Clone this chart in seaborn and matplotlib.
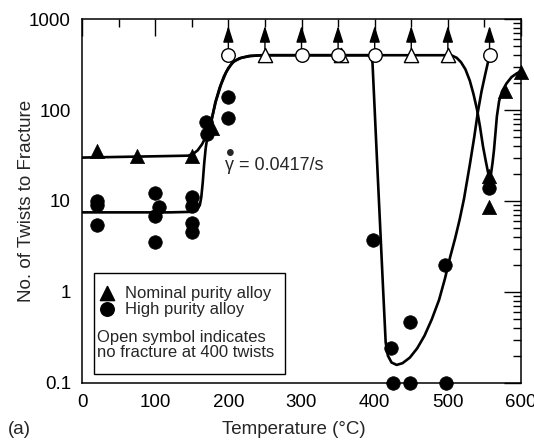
import matplotlib
matplotlib.use("Agg")
import matplotlib.pyplot as plt
import seaborn as sns
from matplotlib.patches import Rectangle
from matplotlib.ticker import FixedLocator, FuncFormatter, LogLocator, MultipleLocator, NullFormatter

# Fractured specimens (filled symbols)
nominal_temp = [20, 75, 150, 177, 556, 556, 578, 600]
nominal_twists = [35, 31, 31, 64, 19, 8.6, 160, 262]

high_temp = [20, 20, 20, 100, 105, 100, 100, 150, 150, 150, 150, 169, 171, 200, 200,
             398, 422, 448, 496, 425, 448, 498, 556]
high_twists = [10, 9.0, 5.5, 12.2, 8.6, 6.8, 3.5, 11, 8.8, 5.8, 4.6, 74, 55, 139, 82,
               3.7, 0.24, 0.47, 2.0, 0.1, 0.1, 0.1, 14]

# Specimens that did not fracture at 400 twists (open symbols)
runout_high_temp = [200, 300, 350, 400, 557]
runout_nominal_temp = [250, 354, 450, 500]
runout_twists = 400
arrow_temp = [200, 250, 300, 350, 400, 450, 500, 557]

# Trend curves
nominal_curve_temp = [0, 50, 100, 145, 152, 158, 164, 170, 176, 182, 188, 194, 200, 208,
                      218, 230, 245, 260, 350, 450, 500, 506, 512, 518, 524, 530, 535,
                      540, 544, 548, 552, 555, 557, 559, 561, 563, 565, 567, 570, 574,
                      580, 587, 594, 600]
nominal_curve_twists = [30, 30.5, 31, 31.5, 33, 36, 42, 52, 70, 120, 175, 235, 290, 345,
                        375, 392, 399, 400, 400, 400, 400, 395, 375, 335, 280, 210, 150,
                        100, 65, 40, 27, 20.5, 19, 20, 26, 36, 55, 85, 125, 160,
                        195, 230, 252, 268]

high_curve_temp = [0, 60, 120, 150, 157, 161, 163, 165, 167, 169, 172, 177, 183, 190,
                   197, 205, 215, 228, 245, 300, 350, 390, 395, 397, 400, 403, 407, 411,
                   415, 418, 423, 430, 438, 448, 458, 468, 478, 488, 496, 503, 510, 516,
                   522, 530, 536, 541, 546, 551, 557]
high_curve_twists = [7.5, 7.5, 7.5, 7.6, 8.0, 9.0, 11, 16, 26, 38, 55, 78, 125, 190,
                     260, 330, 370, 392, 400, 400, 400, 400, 385, 330, 100, 30, 6.3, 1.3,
                     0.28, 0.2, 0.168, 0.158, 0.165, 0.19, 0.24, 0.33, 0.5, 0.82, 1.4, 2.4,
                     3.9, 6.2, 10.5, 25, 50, 95, 160, 245, 400]

x_ticks = [0, 100, 200, 300, 400, 500, 600]
y_ticks = [0.1, 1, 10, 100, 1000]

sns.set_style("white")
plt.rcParams["font.family"] = ["Liberation Sans", "DejaVu Sans"]

fig = plt.figure(figsize=(5.34, 4.42), dpi=100)
ax = fig.add_axes([0.1536, 0.1335, 0.8221, 0.8235])
ax.set_yscale("log")

# trend curves
sns.lineplot(x=nominal_curve_temp, y=nominal_curve_twists, ax=ax, sort=False,
             estimator=None, color="black", linewidth=1.9, zorder=2)
sns.lineplot(x=high_curve_temp, y=high_curve_twists, ax=ax, sort=False,
             estimator=None, color="black", linewidth=1.9, zorder=2)

# fractured specimens
sns.scatterplot(x=nominal_temp, y=nominal_twists, ax=ax, marker="^", s=105,
                color="black", edgecolor="black", linewidth=0.5, clip_on=False, zorder=4)
sns.scatterplot(x=high_temp, y=high_twists, ax=ax, marker="o", s=95,
                color="black", edgecolor="black", linewidth=0.5, clip_on=False, zorder=4)

# run-out arrows and open symbols
for t in arrow_temp:
    ax.annotate("", xy=(t, 840), xytext=(t, 470),
                arrowprops=dict(arrowstyle="-|>,head_length=1.0,head_width=0.32",
                                color="black", lw=1.0, shrinkA=0, shrinkB=0),
                zorder=3)
sns.scatterplot(x=runout_nominal_temp, y=[runout_twists] * len(runout_nominal_temp), ax=ax,
                marker="^", s=105, color="white", edgecolor="black", linewidth=1.0,
                clip_on=False, zorder=5)
sns.scatterplot(x=runout_high_temp, y=[runout_twists] * len(runout_high_temp), ax=ax,
                marker="o", s=95, color="white", edgecolor="black", linewidth=1.0,
                clip_on=False, zorder=6)

ax.set_xlim(0, 600)
ax.set_ylim(0.1, 1000)

ax.xaxis.set_major_locator(FixedLocator(x_ticks))
ax.xaxis.set_minor_locator(MultipleLocator(50))
ax.yaxis.set_major_locator(FixedLocator(y_ticks))
ax.yaxis.set_major_formatter(FuncFormatter(lambda v, p: f"{v:g}"))
ax.yaxis.set_minor_locator(LogLocator(base=10, subs=range(2, 10)))
ax.yaxis.set_minor_formatter(NullFormatter())

ax.tick_params(which="both", direction="in", top=True, right=True, colors="black",
               labelsize=13.5)
ax.tick_params(which="major", length=12, width=1.0, pad=8)
ax.tick_params(which="minor", length=5.5, width=1.0)
for s in ax.spines.values():
    s.set_color("black")
    s.set_linewidth(1.1)

ax.set_xlabel("Temperature (°C)", fontsize=13.5)
ax.set_ylabel("No. of Twists to Fracture", fontsize=13.5)
ax.xaxis.set_label_coords(0.483, -0.105)
ax.yaxis.set_label_coords(-0.108, 0.5)

# strain-rate note: gamma with a dot above it
ax.text(195, 22, "γ = 0.0417/s", fontsize=13, va="baseline", ha="left")
ax.text(203.3, 27.5, "•", fontsize=18, va="baseline", ha="center")

# key box
ax.add_patch(Rectangle((0.027, 0.025), 0.435, 0.277, transform=ax.transAxes,
                       facecolor="white", edgecolor="black", linewidth=1.0, zorder=7))
ax.scatter([0.057], [0.247], marker="^", s=105, color="black", transform=ax.transAxes,
           zorder=8, clip_on=False)
ax.scatter([0.057], [0.204], marker="o", s=95, color="black", transform=ax.transAxes,
           zorder=8, clip_on=False)
ax.text(0.098, 0.245, "Nominal purity alloy", transform=ax.transAxes, fontsize=12,
        va="center", ha="left", zorder=8)
ax.text(0.098, 0.203, "High purity alloy", transform=ax.transAxes, fontsize=12,
        va="center", ha="left", zorder=8)
ax.text(0.035, 0.126, "Open symbol indicates", transform=ax.transAxes, fontsize=12,
        va="center", ha="left", zorder=8)
ax.text(0.035, 0.084, "no fracture at 400 twists", transform=ax.transAxes, fontsize=12,
        va="center", ha="left", zorder=8)

fig.text(8 / 534, 1 - 430 / 442, "(a)", fontsize=13.5, va="center", ha="left")

fig.savefig("out.png", dpi=100)
